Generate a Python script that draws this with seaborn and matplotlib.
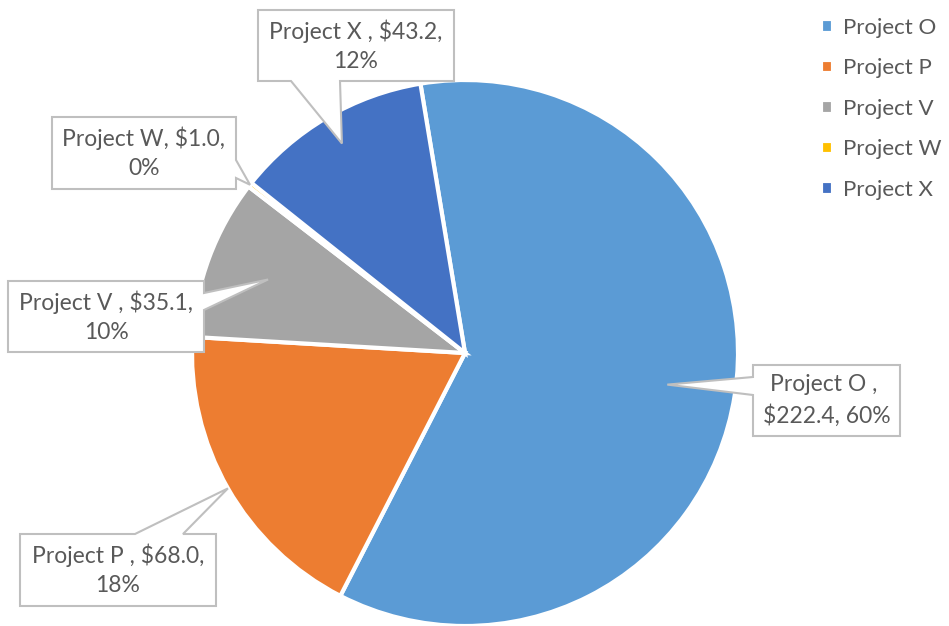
import numpy as np
import matplotlib
matplotlib.use('Agg')
import matplotlib.pyplot as plt
import seaborn as sns
from matplotlib.patches import Polygon

projects = ['Project O', 'Project P', 'Project V', 'Project W', 'Project X']
amounts = [222.4, 68.0, 35.1, 1.0, 43.2]
percents = [60, 18, 10, 0, 12]
label_names = ['Project O ', 'Project P ', 'Project V ', 'Project W', 'Project X ']
colors = ['#5B9BD5', '#ED7D31', '#A5A5A5', '#FFC000', '#4472C4']

sns.set_theme(style='white')
plt.rcParams['font.family'] = ['Lato', 'DejaVu Sans']

W, H = 949, 626
fig = plt.figure(figsize=(W / 100, H / 100), dpi=100)
ax = fig.add_axes([0, 0, 1, 1])

cx, cy, r = 465, 353, 273

wedges, _ = ax.pie(amounts, colors=colors, center=(cx, H - cy), radius=r,
                   startangle=99.4, counterclock=False,
                   wedgeprops=dict(edgecolor='white', linewidth=3))
ax.set_xlim(0, W)
ax.set_ylim(0, H)
ax.set_aspect('equal')
ax.axis('off')

# callout layout in pixel coords (y from top): box, side of pointer, base, tip radius
callouts = {
    'Project O': ((753, 365, 900, 436), 'left', (377, 395), 0.75, '{n}, \n${v:.1f}, {p}%'),
    'Project P': ((20, 534, 216, 606), 'top', (135, 183), 1.0, '{n}, ${v:.1f},\n{p}%'),
    'Project V': ((8, 281, 204, 352), 'right', (293, 310), 0.77, '{n}, ${v:.1f},\n{p}%'),
    'Project W': ((52, 117, 236, 189), 'right', (160, 178), 1.0, '{n}, ${v:.1f},\n{p}%'),
    'Project X': ((258, 10, 454, 81), 'bottom', (291, 340), 0.89, '{n}, ${v:.1f},\n{p}%'),
}

for w, name, lab, val, pct in zip(wedges, projects, label_names, amounts, percents):
    (x0, y0, x1, y1), side, (b1, b2), rf, fmt = callouts[name]
    mid = np.deg2rad((w.theta1 + w.theta2) / 2)
    tip = (cx + rf * r * np.cos(mid), cy - rf * r * np.sin(mid))
    if side == 'bottom':
        pts = [(x0, y0), (x1, y0), (x1, y1), (b2, y1), tip, (b1, y1), (x0, y1)]
    elif side == 'top':
        pts = [(x0, y0), (b1, y0), tip, (b2, y0), (x1, y0), (x1, y1), (x0, y1)]
    elif side == 'right':
        pts = [(x0, y0), (x1, y0), (x1, b1), tip, (x1, b2), (x1, y1), (x0, y1)]
    else:
        pts = [(x0, y0), (x1, y0), (x1, y1), (x0, y1), (x0, b2), tip, (x0, b1)]
    pts = [(px, H - py) for px, py in pts]
    ax.add_patch(Polygon(pts, closed=True, facecolor='white',
                         edgecolor='#BFBFBF', linewidth=1.5, zorder=5))
    ax.text((x0 + x1) / 2, H - (y0 + y1) / 2, fmt.format(n=lab, v=val, p=pct),
            ha='center', va='center', fontsize=16.5, color='#595959',
            linespacing=1.45, zorder=6)

ax.legend(wedges, projects, loc='upper left', bbox_to_anchor=(821 / W, 1 - 18 / H),
          frameon=False, fontsize=16, labelcolor='#595959',
          handlelength=0.55, handleheight=0.55, handletextpad=0.45,
          labelspacing=0.92, borderaxespad=0, borderpad=0)

plt.savefig('out.png', dpi=100)
